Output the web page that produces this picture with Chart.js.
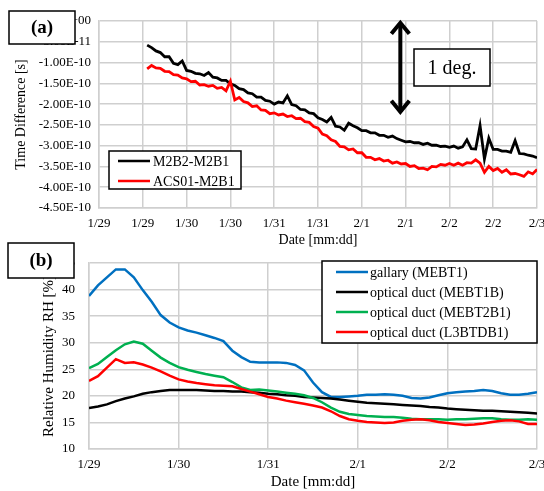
<!DOCTYPE html>
<html>
<head>
<meta charset="utf-8">
<script src="https://cdn.jsdelivr.net/npm/chart.js@4"></script>
<style>
body { margin:0; background:#fff; width:544px; height:491px; position:relative; overflow:hidden; }
canvas { position:absolute; left:0; }
#chartA { top:0; width:544px; height:252px; }
#chartB { top:236px; width:544px; height:255px; }
</style>
</head>
<body>
<canvas id="chartA" width="544" height="252"></canvas>
<canvas id="chartB" width="544" height="255"></canvas>
<script>
// (a) time difference, values in units of 1e-10 s, one sample every 0.05 day from day 0.55
const startDayA = 0.55
const stepA = 0.05
const m2b2M2b1 = [
  -0.58, -0.64, -0.72, -0.76, -0.86, -0.86, -1.02, -1.05, -0.96, -1.19,
  -1.21, -1.26, -1.27, -1.31, -1.24, -1.35, -1.37, -1.43, -1.43, -1.51,
  -1.55, -1.63, -1.65, -1.73, -1.75, -1.83, -1.83, -1.91, -1.93, -2.00,
  -1.95, -1.97, -1.80, -2.01, -2.04, -2.13, -2.14, -2.21, -2.23, -2.33,
  -2.37, -2.43, -2.32, -2.53, -2.55, -2.63, -2.46, -2.52, -2.57, -2.64,
  -2.64, -2.69, -2.69, -2.75, -2.75, -2.80, -2.77, -2.83, -2.87, -2.91,
  -2.90, -2.93, -2.93, -2.97, -2.94, -2.99, -2.99, -3.02, -3.01, -3.04,
  -3.01, -3.06, -3.03, -2.86, -3.07, -3.08, -2.52, -3.32, -2.82, -3.09,
  -3.09, -3.13, -3.13, -3.16, -2.88, -3.19, -3.20, -3.23, -3.25, -3.29
]
const acs01M2b1 = [
  -1.15, -1.07, -1.13, -1.14, -1.21, -1.22, -1.29, -1.30, -1.37, -1.39,
  -1.46, -1.45, -1.54, -1.53, -1.57, -1.55, -1.62, -1.60, -1.68, -1.45,
  -1.90, -1.84, -1.94, -1.97, -2.06, -2.04, -2.14, -2.15, -2.23, -2.21,
  -2.26, -2.24, -2.30, -2.28, -2.35, -2.34, -2.42, -2.44, -2.54, -2.58,
  -2.72, -2.76, -2.86, -2.90, -3.02, -3.03, -3.10, -3.08, -3.17, -3.17,
  -3.28, -3.28, -3.34, -3.31, -3.37, -3.35, -3.42, -3.39, -3.44, -3.43,
  -3.50, -3.48, -3.55, -3.54, -3.58, -3.50, -3.51, -3.45, -3.47, -3.43,
  -3.47, -3.42, -3.47, -3.41, -3.42, -3.34, -3.42, -3.64, -3.50, -3.60,
  -3.55, -3.64, -3.58, -3.68, -3.67, -3.70, -3.74, -3.63, -3.68, -3.57
]
const xTicksA = ['1/29','1/29','1/30','1/30','1/31','1/31','2/1','2/1','2/2','2/2','2/3']
const yTicksA = ['0.00E+00','-5.00E-11','-1.00E-10','-1.50E-10','-2.00E-10','-2.50E-10','-3.00E-10','-3.50E-10','-4.00E-10','-4.50E-10']

// (b) relative humidity [%], one sample every 0.1 day from 1/29
const stepB = 0.1
const gallary = [
  38.8, 40.8, 42.3, 43.8, 43.8, 42.3, 39.9, 37.7, 35.2, 33.8,
  32.9, 32.3, 31.9, 31.4, 30.9, 30.3, 28.5, 27.3, 26.4, 26.3,
  26.3, 26.3, 26.2, 25.8, 24.8, 22.5, 20.7, 19.8, 19.8, 19.9,
  20.0, 20.2, 20.2, 20.3, 20.2, 20.0, 19.6, 19.5, 19.7, 20.1,
  20.5, 20.7, 20.8, 20.9, 21.1, 20.9, 20.5, 20.2, 20.2, 20.4, 20.7
]
const mebt1b = [
  17.7, 18.0, 18.4, 19.0, 19.5, 19.9, 20.4, 20.7, 20.9, 21.1,
  21.1, 21.1, 21.1, 21.0, 20.9, 20.9, 20.8, 20.8, 20.7, 20.6,
  20.4, 20.3, 20.1, 20.0, 19.8, 19.7, 19.6, 19.5, 19.3, 19.1,
  18.9, 18.7, 18.6, 18.5, 18.4, 18.3, 18.2, 18.1, 17.9, 17.8,
  17.6, 17.5, 17.4, 17.3, 17.2, 17.2, 17.1, 17.0, 16.9, 16.8, 16.7
]
const mebt2b1 = [
  25.2, 26.0, 27.3, 28.6, 29.7, 30.2, 29.8, 28.5, 27.2, 26.2,
  25.4, 24.9, 24.5, 24.1, 23.8, 23.5, 22.6, 21.6, 21.1, 21.2,
  21.0, 20.8, 20.6, 20.4, 20.1, 19.6, 18.8, 17.8, 17.0, 16.6,
  16.4, 16.2, 16.1, 16.0, 16.0, 15.9, 15.7, 15.6, 15.6, 15.6,
  15.5, 15.6, 15.6, 15.7, 15.8, 15.8, 15.6, 15.5, 15.5, 15.6, 15.5
]
const l3btdb1 = [
  22.8, 23.7, 25.3, 26.9, 26.2, 26.3, 25.9, 25.3, 24.6, 23.8,
  23.1, 22.7, 22.4, 22.2, 22.0, 21.9, 21.8, 21.3, 20.8, 20.3,
  19.8, 19.5, 19.1, 18.8, 18.5, 18.2, 17.8, 17.1, 16.2, 15.6,
  15.3, 15.1, 15.0, 14.9, 15.0, 15.3, 15.5, 15.6, 15.4, 15.1,
  14.9, 14.7, 14.5, 14.6, 14.8, 15.1, 15.3, 15.4, 15.2, 14.7, 14.7
]
const xTicksB = ['1/29','1/30','1/31','2/1','2/2','2/3']

const serif = "'Liberation Serif', 'Times New Roman', serif"
const gridCol = '#cfcfcf'

function pts(arr, start, step) {
  return arr.map((v, i) => ({ x: start + i * step, y: v }))
}

// keep the x labels from pulling the plot edges in
function noLabelPad(s) {
  s.paddingLeft = 0
  s.paddingRight = 0
}

function drawLegend(chart, bx, by, bw, bh, rows, x0, x1, tx) {
  const ctx = chart.ctx
  ctx.save()
  ctx.fillStyle = '#fff'
  ctx.fillRect(bx, by, bw, bh)
  ctx.strokeStyle = '#000'
  ctx.lineWidth = 1.5
  ctx.strokeRect(bx, by, bw, bh)
  ctx.font = '14px ' + serif
  ctx.textBaseline = 'middle'
  chart.data.datasets.forEach((ds, i) => {
    ctx.strokeStyle = ds.borderColor
    ctx.lineWidth = 2.5
    ctx.beginPath()
    ctx.moveTo(x0, rows[i])
    ctx.lineTo(x1, rows[i])
    ctx.stroke()
    ctx.fillStyle = '#000'
    ctx.fillText(ds.label, tx, rows[i] + 1)
  })
  ctx.restore()
}

function labelBox(ctx, x, y, w, h, text, font) {
  ctx.save()
  ctx.fillStyle = '#fff'
  ctx.fillRect(x, y, w, h)
  ctx.strokeStyle = '#000'
  ctx.lineWidth = 1.5
  ctx.strokeRect(x, y, w, h)
  ctx.fillStyle = '#000'
  ctx.font = font
  ctx.textAlign = 'center'
  ctx.textBaseline = 'middle'
  ctx.fillText(text, x + w / 2, y + h / 2 + 1)
  ctx.restore()
}

const annotA = {
  id: 'annotA',
  afterDraw(chart) {
    const ctx = chart.ctx
    drawLegend(chart, 109, 151, 132, 38, [161, 181], 118, 150, 153)
    labelBox(ctx, 9, 11, 66, 33, '(a)', 'bold 19px ' + serif)
    labelBox(ctx, 414, 49, 76, 37, '1 deg.', '20px ' + serif)
    // double arrow
    const ax = chart.scales.x.getPixelForValue(3.44)
    const y0 = chart.scales.y.getPixelForValue(-0.02)
    const y1 = chart.scales.y.getPixelForValue(-2.21)
    ctx.save()
    ctx.strokeStyle = '#000'
    ctx.lineWidth = 4
    ctx.beginPath()
    ctx.moveTo(ax, y0 + 2)
    ctx.lineTo(ax, y1 - 2)
    ctx.stroke()
    ctx.beginPath()
    ctx.moveTo(ax - 9, y0 + 12)
    ctx.lineTo(ax, y0 + 1)
    ctx.lineTo(ax + 9, y0 + 12)
    ctx.moveTo(ax - 9, y1 - 12)
    ctx.lineTo(ax, y1 - 1)
    ctx.lineTo(ax + 9, y1 - 12)
    ctx.stroke()
    ctx.restore()
  }
}

const annotB = {
  id: 'annotB',
  afterDraw(chart) {
    drawLegend(chart, 322, 25, 215, 82, [36, 56, 76, 96], 336, 368, 370)
    labelBox(chart.ctx, 8, 7, 66, 35, '(b)', 'bold 19px ' + serif)
  }
}

new Chart(document.getElementById('chartA'), {
  type: 'line',
  data: {
    datasets: [
      { label: 'M2B2-M2B1', data: pts(m2b2M2b1, startDayA, stepA), borderColor: '#000', borderWidth: 2.8, pointRadius: 0, order: 2 },
      { label: 'ACS01-M2B1', data: pts(acs01M2b1, startDayA, stepA), borderColor: '#ff0000', borderWidth: 2.8, pointRadius: 0, order: 1 }
    ]
  },
  options: {
    responsive: false,
    animation: false,
    layout: { padding: { top: 21, right: 7, left: 0, bottom: 0 } },
    plugins: { legend: { display: false }, tooltip: { enabled: false } },
    scales: {
      x: {
        type: 'linear', min: 0, max: 5,
        afterFit: s => { s.height = 44; noLabelPad(s) },
        grid: { color: gridCol, lineWidth: 1.5, drawTicks: false },
        border: { color: gridCol, width: 1.5 },
        ticks: { stepSize: 0.5, autoSkip: false, maxRotation: 0, padding: 8, color: '#000',
          font: { family: serif, size: 13 }, callback: (v, i) => xTicksA[i] },
        title: { display: true, text: 'Date [mm:dd]', color: '#000', font: { family: serif, size: 14 }, padding: { top: 0, bottom: 3 } }
      },
      y: {
        min: -4.5, max: 0,
        afterFit: s => { s.width = 99 },
        grid: { color: gridCol, lineWidth: 1.5, drawTicks: false },
        border: { color: gridCol, width: 1.5 },
        ticks: { stepSize: 0.5, padding: 8, color: '#000', font: { family: serif, size: 13 },
          callback: v => yTicksA[Math.round(-v / 0.5)] },
        title: { display: true, text: 'Time Difference [s]', color: '#000', font: { family: serif, size: 14 }, padding: { top: 13, bottom: 0 } }
      }
    }
  },
  plugins: [annotA]
})

new Chart(document.getElementById('chartB'), {
  type: 'line',
  data: {
    datasets: [
      { label: 'gallary (MEBT1)', data: pts(gallary, 0, stepB), borderColor: '#0070c0', borderWidth: 2.5, pointRadius: 0, order: 4 },
      { label: 'optical duct (MEBT1B)', data: pts(mebt1b, 0, stepB), borderColor: '#000', borderWidth: 2.5, pointRadius: 0, order: 3 },
      { label: 'optical duct (MEBT2B1)', data: pts(mebt2b1, 0, stepB), borderColor: '#00b050', borderWidth: 2.5, pointRadius: 0, order: 2 },
      { label: 'optical duct (L3BTDB1)', data: pts(l3btdb1, 0, stepB), borderColor: '#ff0000', borderWidth: 2.5, pointRadius: 0, order: 1 }
    ]
  },
  options: {
    responsive: false,
    animation: false,
    layout: { padding: { top: 27, right: 7, left: 0, bottom: 0 } },
    plugins: { legend: { display: false }, tooltip: { enabled: false } },
    scales: {
      x: {
        type: 'linear', min: 0, max: 5,
        afterFit: s => { s.height = 42; noLabelPad(s) },
        grid: { color: gridCol, lineWidth: 1.5, drawTicks: false },
        border: { color: gridCol, width: 1.5 },
        ticks: { stepSize: 1, autoSkip: false, maxRotation: 0, padding: 8, color: '#000',
          font: { family: serif, size: 13 }, callback: (v, i) => xTicksB[i] },
        title: { display: true, text: 'Date [mm:dd]', color: '#000', font: { family: serif, size: 15 }, padding: { top: 0, bottom: 0 } }
      },
      y: {
        min: 10, max: 45,
        afterFit: s => { s.width = 89 },
        grid: { color: gridCol, lineWidth: 1.5, drawTicks: false },
        border: { color: gridCol, width: 1.5 },
        ticks: { stepSize: 5, padding: 14, color: '#000', font: { family: serif, size: 13 } },
        title: { display: true, text: 'Relative Humidity RH [%]', color: '#000', font: { family: serif, size: 15 }, padding: { top: 40, bottom: 0 } }
      }
    }
  },
  plugins: [annotB]
})
</script>
</body>
</html>
